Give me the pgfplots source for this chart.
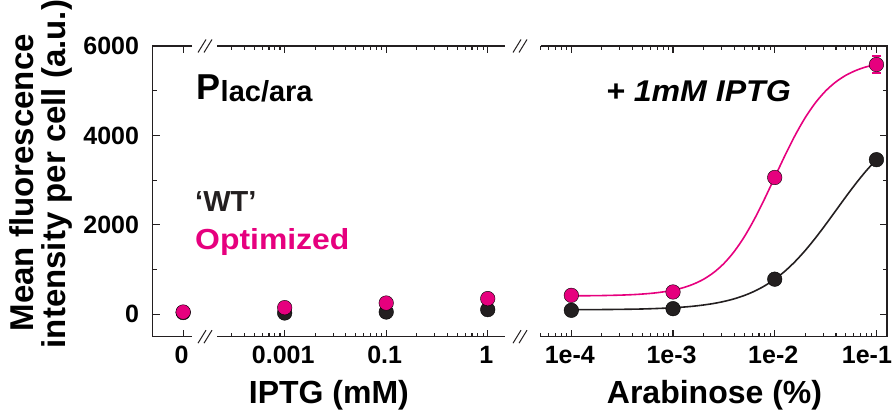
\documentclass[border=0pt]{standalone}
\usepackage{pgfplots}
\pgfplotsset{compat=1.18}
\usepackage{fontspec}
\setmainfont{Liberation Sans}
\definecolor{mag}{HTML}{E6007E}
\definecolor{ink}{HTML}{231F20}
\newcommand\ticklab{\fontsize{25bp}{25bp}\selectfont\bfseries}
\newcommand\labfont{\fontsize{32bp}{32bp}\selectfont\bfseries}
\newcommand\ylabfont{\fontsize{33bp}{33bp}\selectfont\bfseries}

\pgfplotsset{
  panel/.style={
    scale only axis, height=290.7bp,
    ymin=-500, ymax=6000,
    axis line style={draw=none},
    clip=false,
    tick style={ink, line width=1.1bp},
    major tick length=7bp, minor tick length=3.8bp,
    tick align=inside,
    xtick pos=both,
    ytick={0,2000,4000,6000}, minor ytick={1000,3000,5000},
    /pgf/number format/assume math mode=true,
    scaled y ticks=false,
    xticklabel style={font=\ticklab, inner sep=0pt, yshift=-9bp, xshift=-1.5bp},
    yticklabel style={font=\ticklab, inner sep=0pt, xshift=-13.5bp},
  },
  wt/.style={only marks, mark=*, mark size=7.3bp, mark options={fill=ink, draw=none}},
  opt/.style={only marks, mark=*, mark size=7.3bp, mark options={fill=mag, draw=none}},
}

\begin{document}
\begin{tikzpicture}

% IPTG panel (categorical positions 0..3)
\begin{axis}[panel, at={(152.7bp,76.3bp)}, anchor=south west, width=352.3bp,
  xmin=-0.3, xmax=3.17,
  xtick={0,1,2,3}, xticklabels={0,0.001,0.1,1},
  minor xtick={0.477,0.602,0.699,0.778,0.845,0.903,0.954,
               1.301,1.477,1.602,1.699,1.778,1.845,1.903,1.954,
               2.301,2.477,2.602,2.699,2.778,2.845,2.903,2.954},
  ytick pos=left, yticklabels={0,2000,4000,6000}]
  \addplot[wt] coordinates {(0,40) (1,30) (2,52) (3,105)};
  \addplot[opt] coordinates {(0,52) (1,150) (2,253) (3,352)};
\end{axis}

% Arabinose panel (log scale, 1 mM IPTG)
\begin{axis}[panel, at={(540.7bp,76.3bp)}, anchor=south west, width=346.3bp,
  xmode=log, xmin=5e-5, xmax=0.127,
  xtick={1e-4,1e-3,1e-2,1e-1},
  xticklabels={1e-4,1e-3,1e-2,{1e-1\hspace*{16bp}}},
  minor xtick={5e-5,6e-5,7e-5,8e-5,9e-5,
               2e-4,3e-4,4e-4,5e-4,6e-4,7e-4,8e-4,9e-4,
               2e-3,3e-3,4e-3,5e-3,6e-3,7e-3,8e-3,9e-3,
               2e-2,3e-2,4e-2,5e-2,6e-2,7e-2,8e-2,9e-2},
  ytick pos=right, yticklabels={}]
  % fitted dose-response curves
  \addplot[ink, line width=1.6bp, smooth] coordinates {
    (1.000e-4,103) (1.259e-4,104) (1.585e-4,105) (1.995e-4,107) (2.512e-4,109)
    (3.162e-4,112) (3.981e-4,115) (5.012e-4,120) (6.310e-4,127) (7.943e-4,136)
    (1.000e-3,147) (1.259e-3,162) (1.585e-3,182) (1.995e-3,209) (2.512e-3,243)
    (3.162e-3,288) (3.981e-3,346) (5.012e-3,421) (6.310e-3,516) (7.943e-3,636)
    (1.000e-2,785) (1.259e-2,965) (1.585e-2,1180) (1.995e-2,1428) (2.512e-2,1706)
    (3.162e-2,2006) (3.981e-2,2318) (5.012e-2,2631) (6.310e-2,2932) (7.943e-2,3211)
    (1.000e-1,3460)};
  \addplot[mag, line width=1.6bp, smooth] coordinates {
    (1.000e-4,413) (1.259e-4,415) (1.585e-4,417) (1.995e-4,420) (2.512e-4,425)
    (3.162e-4,431) (3.981e-4,440) (5.012e-4,454) (6.310e-4,473) (7.943e-4,501)
    (1.000e-3,540) (1.259e-3,596) (1.585e-3,675) (1.995e-3,784) (2.512e-3,935)
    (3.162e-3,1136) (3.981e-3,1400) (5.012e-3,1731) (6.310e-3,2129) (7.943e-3,2581)
    (1.000e-2,3065) (1.259e-2,3549) (1.585e-2,4001) (1.995e-2,4399) (2.512e-2,4730)
    (3.162e-2,4994) (3.981e-2,5195) (5.012e-2,5346) (6.310e-2,5455) (7.943e-2,5534)
    (1.000e-1,5590)};
  \addplot[wt] coordinates {(1e-4,90) (1e-3,127) (1e-2,786) (1e-1,3458)};
  \addplot[opt, error bars/.cd, y dir=both, y explicit,
    error bar style={mag, line width=1.6bp},
    error mark options={mag, line width=1.6bp, mark size=4.5bp, rotate=90}]
    coordinates {(1e-4,425) (1e-3,500) (1e-2,3060) (1e-1,5586) +- (0,190)};
\end{axis}

% broken axis frame
\begin{scope}[ink, line width=1.2bp]
  \draw (192bp,367bp) -- (152.7bp,367bp) -- (152.7bp,76.3bp) -- (192bp,76.3bp);
  \draw (217bp,367bp) -- (505bp,367bp);
  \draw (217bp,76.3bp) -- (505bp,76.3bp);
  \draw (540.7bp,367bp) -- (887bp,367bp) -- (887bp,76.3bp) -- (540.7bp,76.3bp);
\end{scope}
\begin{scope}[ink, line width=1bp]
  \foreach \bx in {205,520} {
    \foreach \by in {367,76.3} {
      \draw (\bx bp-7bp,\by bp-6.5bp) -- ++(8bp,13bp);
      \draw (\bx bp-1bp,\by bp-6.5bp) -- ++(8bp,13bp);
    }
  }
\end{scope}

% axis titles
\node[font=\labfont, anchor=base] at (328.9bp,9.3bp) {IPTG (mM)};
\node[font=\labfont, anchor=base] at (714.5bp,9.3bp) {Arabinose (\%)};
\node[font=\ylabfont, rotate=90, anchor=base west, inner sep=0pt] at (33bp,81.5bp)
  {Mean fluorescence};
\node[font=\ylabfont, rotate=90, anchor=base west, inner sep=0pt] at (65bp,64.5bp)
  {intensity per cell (a.u.)};

% annotations
\node[anchor=base west, inner sep=0pt] at (196.5bp,313bp)
  {\fontsize{36bp}{36bp}\selectfont\bfseries P\raisebox{-2bp}{\fontsize{29bp}{29bp}\selectfont lac/ara}};
\node[anchor=base west, inner sep=0pt] at (606bp,311.3bp)
  {\fontsize{30bp}{30bp}\selectfont\bfseries\itshape \scalebox{1.07}[1]{+ 1mM IPTG}};
\node[anchor=base west, inner sep=0pt, text=ink] at (195bp,201.3bp)
  {\fontsize{29bp}{29bp}\selectfont\bfseries ‘WT’};
\node[anchor=base west, inner sep=0pt, text=mag] at (195bp,163bp)
  {\fontsize{29bp}{29bp}\selectfont\bfseries \scalebox{1.1}[1]{Optimized}};

\pgfresetboundingbox
\path[use as bounding box] (0,0) rectangle (895bp,413bp);
\end{tikzpicture}
\end{document}
